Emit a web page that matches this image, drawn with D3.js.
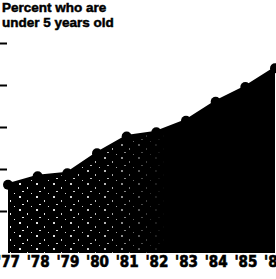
<!DOCTYPE html>
<html>
<head>
<meta charset="utf-8">
<script src="https://cdn.jsdelivr.net/npm/d3@7"></script>
<style>
  html, body { margin: 0; padding: 0; background: #fff; }
  svg { display: block; }
</style>
</head>
<body>
<script>
// data
var years = [1977, 1978, 1979, 1980, 1981, 1982, 1983, 1984, 1985, 1986];
var yearLabels = ["'77", "'78", "'79", "'80", "'81", "'82", "'83", "'84", "'85", "'86"];
var percents = [3.25, 3.65, 3.8, 4.75, 5.55, 5.75, 6.3, 7.2, 7.9, 8.8];
var yTicks = [2, 4, 6, 8, 10];

var width = 276, height = 279;

var svg = d3.select("body").append("svg")
    .attr("width", width)
    .attr("height", height);

var x = d3.scaleLinear().domain([1977, 1986]).range([8, 275]);
var y = d3.scaleLinear().domain([0, 10]).range([253, 43]);

var pts = years.map(function (yr, i) { return { year: yr, v: percents[i] }; });

// sparse white speckles on the left part of the area (scan noise look)
var defs = svg.append("defs");
var pat = defs.append("pattern")
    .attr("id", "speck")
    .attr("width", 17).attr("height", 13)
    .attr("patternUnits", "userSpaceOnUse");
pat.append("rect").attr("width", 17).attr("height", 13).attr("fill", "#000");
[[2, 1, 2, 2], [10, 5, 1, 2], [5, 9, 2, 1], [14, 11, 1, 1]].forEach(function (s) {
    pat.append("rect").attr("x", s[0]).attr("y", s[1])
        .attr("width", s[2]).attr("height", s[3]).attr("fill", "#fff");
});
var grad = defs.append("linearGradient").attr("id", "fade")
    .attr("x1", 0).attr("x2", 1).attr("y1", 0).attr("y2", 0);
grad.append("stop").attr("offset", "0").attr("stop-color", "#fff");
grad.append("stop").attr("offset", "0.4").attr("stop-color", "#fff").attr("stop-opacity", 0.7);
grad.append("stop").attr("offset", "0.6").attr("stop-color", "#fff").attr("stop-opacity", 0);
var mask = defs.append("mask").attr("id", "fadeMask");
mask.append("rect").attr("x", 0).attr("y", 0).attr("width", width).attr("height", height)
    .attr("fill", "url(#fade)");

var area = d3.area()
    .x(function (d) { return x(d.year); })
    .y0(y(0))
    .y1(function (d) { return y(d.v); });

var line = d3.line()
    .x(function (d) { return x(d.year); })
    .y(function (d) { return y(d.v); });

// area
svg.append("path").datum(pts)
    .attr("d", area)
    .attr("fill", "#000");
svg.append("path").datum(pts)
    .attr("d", area)
    .attr("fill", "url(#speck)")
    .attr("mask", "url(#fadeMask)");

// line + dots
svg.append("path").datum(pts)
    .attr("d", line)
    .attr("fill", "none")
    .attr("stroke", "#000")
    .attr("stroke-width", 3);

svg.selectAll("circle.dot").data(pts).enter().append("circle")
    .attr("class", "dot")
    .attr("cx", function (d) { return x(d.year); })
    .attr("cy", function (d) { return y(d.v); })
    .attr("r", 5)
    .attr("fill", "#000");

// y ticks (no labels)
var yAxis = svg.append("g")
    .attr("transform", "translate(7,0)")
    .call(d3.axisLeft(y).tickValues(yTicks).tickSize(7).tickFormat(""));
yAxis.select(".domain").remove();
yAxis.selectAll("line").attr("stroke", "#000").attr("stroke-width", 2);

// x labels
var xAxis = svg.append("g")
    .attr("transform", "translate(0," + y(0) + ")")
    .call(d3.axisBottom(x).tickValues(years).tickSize(0)
        .tickFormat(function (d, i) { return yearLabels[i]; }));
xAxis.select(".domain").remove();
xAxis.selectAll("text")
    .attr("y", 14)
    .attr("dy", 0)
    .attr("fill", "#000")
    .attr("stroke", "#000")
    .attr("stroke-width", 0.6)
    .style("font-family", "'Liberation Sans Narrow', 'DejaVu Sans Condensed', sans-serif")
    .style("font-weight", "bold")
    .style("font-size", "15px");

// title
var titleLines = ["Percent who are", "under 5 years old"];
svg.selectAll("text.title").data(titleLines).enter().append("text")
    .attr("class", "title")
    .attr("x", 2)
    .attr("y", function (d, i) { return 12 + i * 15; })
    .style("font-family", "'Liberation Sans', Arial, sans-serif")
    .style("font-weight", "bold")
    .style("font-size", "13.5px")
    .attr("fill", "#000")
    .attr("stroke", "#000")
    .attr("stroke-width", 0.5)
    .text(function (d) { return d; });
</script>
</body>
</html>
